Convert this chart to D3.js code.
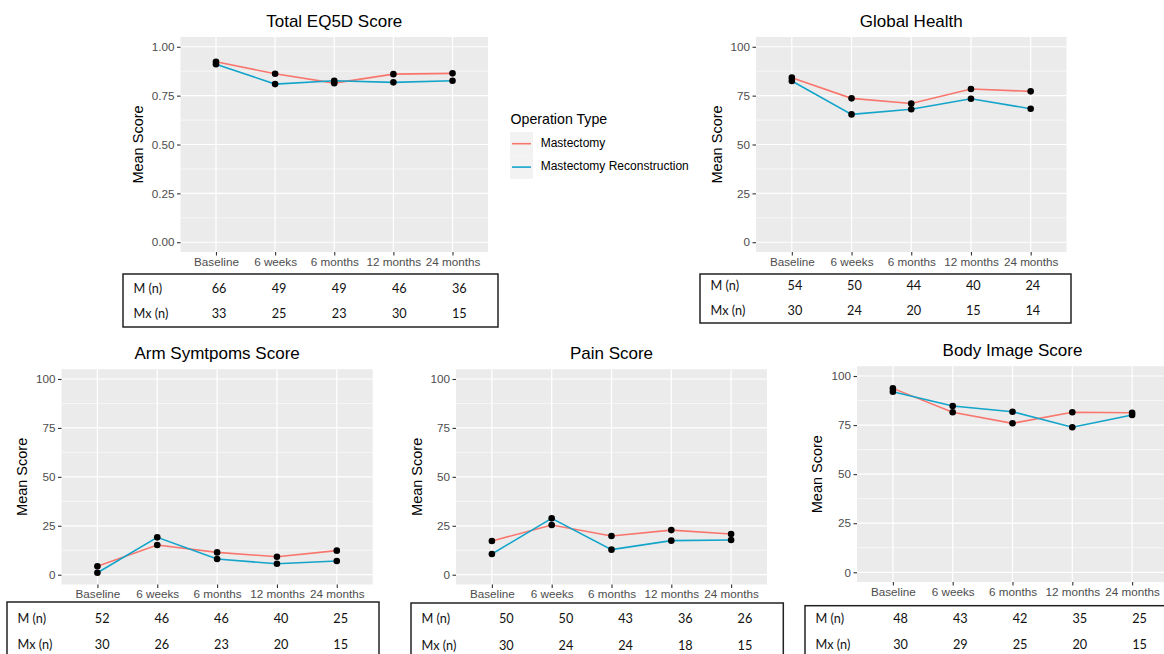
<!DOCTYPE html>
<html>
<head>
<meta charset="utf-8">
<script src="https://cdn.jsdelivr.net/npm/d3@7"></script>
<style>
  body { margin: 0; background: #fff; }
  svg { display: block; font-family: "Liberation Sans", Arial, sans-serif; }
  .tick-label { fill: #4d4d4d; font-size: 11.7px; }
  .tbl { font-family: Lato, "Open Sans", sans-serif; font-size: 12.7px; fill: #111; }
</style>
</head>
<body>
<svg id="chart" width="1164" height="654"></svg>
<script>
// time points shared by every panel
const timepoints = ['Baseline', '6 weeks', '6 months', '12 months', '24 months'];
const seriesNames = ['Mastectomy', 'Mastectomy Reconstruction'];
const colors = ['#f8766d', '#13a4ca'];

// mean scores
const eq5dM  = [0.923, 0.862, 0.814, 0.860, 0.864];
const eq5dMx = [0.911, 0.809, 0.826, 0.818, 0.826];
const globalM  = [84.2, 73.6, 71.0, 78.4, 77.2];
const globalMx = [82.5, 65.4, 68.0, 73.4, 68.3];
const armM  = [4.3, 15.2, 11.4, 9.2, 12.3];
const armMx = [1.0, 19.1, 8.0, 5.6, 7.0];
const painM  = [17.2, 25.4, 19.8, 22.8, 20.8];
const painMx = [10.6, 28.8, 12.8, 17.4, 17.7];
const bodyM  = [93.7, 81.5, 75.9, 81.5, 81.3];
const bodyMx = [92.0, 84.7, 81.8, 73.9, 80.1];

// patient numbers (n) under each panel
const eq5dN   = [[66, 49, 49, 46, 36], [33, 25, 23, 30, 15]];
const globalN = [[54, 50, 44, 40, 24], [30, 24, 20, 15, 14]];
const armN    = [[52, 46, 46, 40, 25], [30, 26, 23, 20, 15]];
const painN   = [[50, 50, 43, 36, 26], [30, 24, 24, 18, 15]];
const bodyN   = [[48, 43, 42, 35, 25], [30, 29, 25, 20, 15]];
const rowLabels = ['M (n)', 'Mx (n)'];

const eq5dTicks = [0, 0.25, 0.5, 0.75, 1];
const scoreTicks = [0, 25, 50, 75, 100];

// layout of each panel: plot box and table box
const panels = [
  { title: 'Total EQ5D Score', m: eq5dM, mx: eq5dMx, n: eq5dN, ticks: eq5dTicks, max: 1, fmt: d3.format('.2f'),
    plot: [180.5, 488, 37, 252], box: [123, 498, 274, 327], rows: [290, 315], lab: 41 },
  { title: 'Global Health', m: globalM, mx: globalMx, n: globalN, ticks: scoreTicks, max: 100, fmt: d3.format('d'),
    plot: [756, 1066.5, 37, 252], box: [700, 1071, 274, 323], rows: [287, 312], lab: 38 },
  { title: 'Arm Symtpoms Score', m: armM, mx: armMx, n: armN, ticks: scoreTicks, max: 100, fmt: d3.format('d'),
    plot: [61.5, 372.7, 369.2, 584.5], box: [7, 379, 602, 670], rows: [620, 646], lab: 38 },
  { title: 'Pain Score', m: painM, mx: painMx, n: painN, ticks: scoreTicks, max: 100, fmt: d3.format('d'),
    plot: [456, 767, 369.2, 584.5], box: [411, 783.3, 603, 670], rows: [620, 646.5], lab: 38 },
  { title: 'Body Image Score', m: bodyM, mx: bodyMx, n: bodyN, ticks: scoreTicks, max: 100, fmt: d3.format('d'),
    plot: [857, 1168, 366.2, 582.1], box: [805, 1178, 605.7, 670], rows: [620, 646], lab: 39 }
];

const svg = d3.select('#chart');

panels.forEach((p) => {
  const [x0, x1, y0, y1] = p.plot;
  const x = d3.scalePoint().domain(timepoints).range([x0, x1]).padding(0.6);
  const y = d3.scaleLinear().domain([-0.05 * p.max, 1.05 * p.max]).range([y1, y0]);
  const g = svg.append('g');

  // grey panel and grid
  g.append('rect').attr('x', x0).attr('y', y0).attr('width', x1 - x0).attr('height', y1 - y0).attr('fill', '#ebebeb');
  const minor = d3.range(p.ticks.length - 1).map((i) => (p.ticks[i] + p.ticks[i + 1]) / 2);
  g.selectAll('.minor').data(minor).enter().append('line')
    .attr('x1', x0).attr('x2', x1).attr('y1', (d) => y(d)).attr('y2', (d) => y(d))
    .attr('stroke', '#fff').attr('stroke-width', 0.6);
  g.selectAll('.hmajor').data(p.ticks).enter().append('line')
    .attr('x1', x0).attr('x2', x1).attr('y1', (d) => y(d)).attr('y2', (d) => y(d))
    .attr('stroke', '#fff').attr('stroke-width', 1.2);
  g.selectAll('.vmajor').data(timepoints).enter().append('line')
    .attr('y1', y0).attr('y2', y1).attr('x1', (d) => x(d)).attr('x2', (d) => x(d))
    .attr('stroke', '#fff').attr('stroke-width', 1.2);

  // axes
  const yAxis = g.append('g').attr('transform', `translate(${x0},0)`)
    .call(d3.axisLeft(y).tickValues(p.ticks).tickFormat(p.fmt).tickSize(3.5).tickPadding(2.5));
  const xAxis = g.append('g').attr('transform', `translate(0,${y1})`)
    .call(d3.axisBottom(x).tickSize(3.5).tickPadding(2));
  [yAxis, xAxis].forEach((a) => {
    a.select('.domain').remove();
    a.selectAll('line').attr('stroke', '#333').attr('stroke-width', 1.1);
    a.selectAll('text').attr('class', 'tick-label').attr('font-family', null).attr('font-size', null);
  });

  // title and y label
  g.append('text').attr('x', (x0 + x1) / 2).attr('y', y0 - 10).attr('text-anchor', 'middle')
    .attr('font-size', 17).attr('fill', '#000').text(p.title);
  g.append('text').attr('transform', `translate(${x0 - p.lab},${(y0 + y1) / 2})rotate(-90)`)
    .attr('text-anchor', 'middle').attr('dominant-baseline', 'middle')
    .attr('font-size', 14.5).attr('fill', '#000').text('Mean Score');

  // lines and points
  const line = d3.line().x((d, i) => x(timepoints[i])).y((d) => y(d));
  [p.m, p.mx].forEach((vals, s) => {
    g.append('path').datum(vals).attr('d', line).attr('fill', 'none')
      .attr('stroke', colors[s]).attr('stroke-width', 1.6);
  });
  [p.m, p.mx].forEach((vals) => {
    g.selectAll(null).data(vals).enter().append('circle')
      .attr('cx', (d, i) => x(timepoints[i])).attr('cy', (d) => y(d)).attr('r', 3.3).attr('fill', '#000');
  });

  // table of n under the panel
  const [bx0, bx1, by0, by1] = p.box;
  const bw = bx1 - bx0;
  g.append('rect').attr('x', bx0).attr('y', by0).attr('width', bw).attr('height', by1 - by0)
    .attr('fill', 'none').attr('stroke', '#222').attr('stroke-width', 1.5);
  const col = d3.scalePoint().domain(timepoints).range([bx0 + 0.256 * bw, bx0 + 0.897 * bw]);
  p.n.forEach((row, r) => {
    g.append('text').attr('class', 'tbl').attr('x', bx0 + 10.5).attr('y', p.rows[r])
      .attr('dominant-baseline', 'middle').text(rowLabels[r]);
    g.selectAll(null).data(row).enter().append('text').attr('class', 'tbl')
      .attr('x', (d, i) => col(timepoints[i])).attr('y', p.rows[r])
      .attr('text-anchor', 'middle').attr('dominant-baseline', 'middle').text((d) => d);
  });
});

// legend
const legend = svg.append('g').attr('transform', 'translate(510,0)');
legend.append('text').attr('x', 0.5).attr('y', 124).attr('font-size', 14.2).attr('fill', '#000').text('Operation Type');
seriesNames.forEach((name, i) => {
  const ky = 132 + i * 23.4;
  legend.append('rect').attr('x', 0).attr('y', ky).attr('width', 23).attr('height', 23.4).attr('fill', '#f2f2f2');
  legend.append('line').attr('x1', 2).attr('x2', 21).attr('y1', ky + 11.7).attr('y2', ky + 11.7)
    .attr('stroke', colors[i]).attr('stroke-width', 1.6);
  legend.append('text').attr('x', 30.7).attr('y', ky + 11.7).attr('dominant-baseline', 'middle')
    .attr('font-size', 12).attr('fill', '#000').text(name);
});
</script>
</body>
</html>
